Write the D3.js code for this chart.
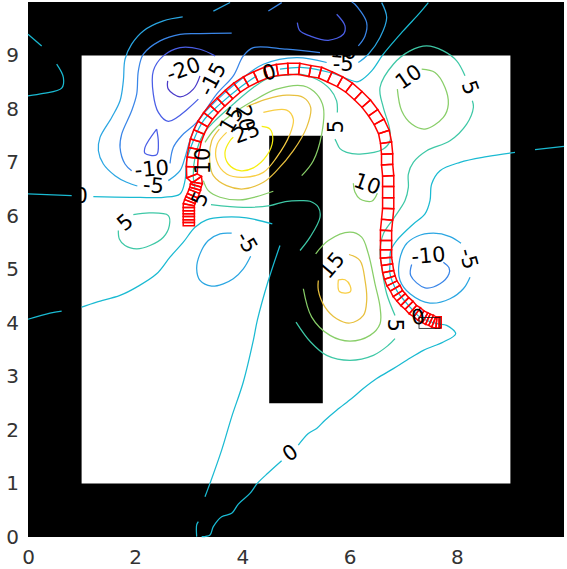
<!DOCTYPE html>
<html><head><meta charset="utf-8">
<script src="https://cdn.jsdelivr.net/npm/d3@7"></script>
<style>html,body{margin:0;padding:0;background:#fff;overflow:hidden}svg{display:block}</style>
</head><body><div id="chart"></div>
<script>
const xTicks=[0,2,4,6,8];
const yTicks=[0,1,2,3,4,5,6,7,8,9];
const outerWall=[0,10,0,10];
const openArea=[1,9,1,9];
const innerWall=[4.5,5.5,2.5,7.5];
const endBlock=[7.295,7.69,3.90,4.105];

const levelColors=[[-20,"#4A3BC9"],[-15,"#4A5EE6"],[-10,"#3A86E8"],[-5,"#2AA6E2"],[0,"#1ABAD2"],[5,"#3EC8A6"],[10,"#88CE68"],[15,"#E8C03E"],[20,"#F8CE44"],[25,"#F6EE10"]];

const contoursM20=[
[[3.209,8.62],[3.085,8.371],[2.836,8.228],[2.618,8.371],[2.606,8.526]]];
const contoursM15=[
[[3.489,8.993],[3.209,9.117],[2.836,9.148],[2.525,8.993],[2.338,8.713],[2.338,8.278],[2.432,7.936],[2.618,7.768],[3.178,8.184]],
[[2.4,7.625],[2.183,7.283],[2.183,7.171],[2.4,7.146],[2.432,7.376],[2.4,7.625]],
[[5.759,9.77],[5.914,9.553],[5.883,9.397],[5.603,9.285],[5.261,9.366],[5.075,9.459],[5.025,9.615]]];
const contoursM10=[
[[1.934,6.847],[1.81,6.972],[1.717,7.283],[1.748,7.531],[1.934,7.967],[2.028,8.278],[2.059,8.713],[2.152,9.024],[2.463,9.273],[2.836,9.397],[3.209,9.41],[3.8,9.416]],
[[2.65,6.984],[2.712,7.283],[2.867,7.5],[3.147,7.749],[3.52,8.278],[3.83,8.62],[4.018,8.993],[4.204,9.148],[4.826,9.117],[5.448,9.055]],
[[6.163,9.179],[6.287,9.366],[6.318,9.615],[6.1,9.957],[6.04,10]],
[[4.484,9.832],[4.733,9.988]],
[[7.158,5.094],[7.14,4.888],[7.407,4.658],[7.687,4.733],[7.855,4.92],[7.855,5.031],[7.749,5.137]]];
const contoursM5=[
[[2.886,9.72],[2.525,9.646],[2.152,9.459],[1.934,9.211],[1.81,8.93],[1.779,8.526],[1.717,8.153],[1.561,7.842],[1.344,7.469],[1.313,7.22],[1.406,6.972],[1.624,6.754],[1.841,6.63],[2.04,6.561]],
[[3.458,9.83],[3.77,9.99]],
[[2.618,6.661],[2.836,6.847],[2.93,7.096],[3.02,7.41],[3.147,7.72],[3.271,7.905],[3.644,8.278],[4.018,8.589],[4.391,8.837],[5.012,8.962],[5.572,8.869]],
[[6.163,8.868],[6.35,9.024],[6.567,9.335],[6.692,9.708],[6.598,9.988]],
[[3.8,5.678],[3.582,5.666],[3.364,5.541],[3.209,5.292],[3.147,5.013],[3.209,4.795],[3.426,4.689],[3.644,4.733],[3.83,4.826],[4.017,5.013],[4.154,5.249]],
[[8.079,5.492],[7.873,5.616],[7.563,5.678],[7.252,5.616],[7.034,5.448],[6.922,5.106],[6.941,4.795],[7.127,4.546],[7.5,4.372],[7.873,4.453],[8.122,4.64],[8.247,4.857]]];
const contours0=[
[[4.266,8.62],[3.955,8.402],[3.582,8.091],[3.271,7.78],[3.085,7.407],[2.96,7.034],[2.929,6.661],[2.836,6.412],[2.525,6.35],[1.903,6.35],[1.219,6.362]],
[[0.815,6.381],[0,6.412]],
[[4.701,8.744],[5.137,8.775],[5.634,8.682],[6.132,8.508],[6.194,8.526],[6.412,8.713],[6.629,9.024],[7,9.459],[7.313,9.801],[7.469,9.988]],
[[0,9.397],[0.255,9.179]],
[[0.535,8.838],[0.66,8.589],[0.628,8.39],[0.286,8.29],[0,8.247]],
[[10,7.3],[9.459,7.239]],
[[9.086,7.189],[8.557,7.109],[8.06,7.003],[7.687,6.847],[7.531,6.599],[7.5,6.288],[7.407,6.039],[7.19,5.852],[6.878,5.541],[6.767,5.355],[6.754,5.106],[6.754,4.92],[6.878,4.609],[7.127,4.298],[7.314,4.111],[7.625,3.987],[7.811,3.956],[7.979,3.8],[7.749,3.645],[7.376,3.489],[7.065,3.303],[6.816,3.147],[6.505,2.961],[6.256,2.774],[6.038,2.588],[5.758,2.37],[5.541,2.183],[5.385,2.028],[5.23,1.934],[5.043,1.717]],
[[4.732,1.425],[4.484,1.201],[4.278,1.002],[4.141,0.815],[3.924,0.616],[3.8,0.442],[3.613,0.38],[3.457,0.193],[3.395,0.038],[3.24,0.007]],
[[3.147,0.007],[3.147,0.225],[3.178,0.287]],
[[3.302,0.753],[3.395,1.002],[3.613,1.624],[3.8,2.246],[4.017,2.898],[4.204,3.676],[4.278,4.049],[4.484,4.795],[4.701,5.448]],
[[4.558,5.852],[4.079,5.964],[3.644,5.977],[3.333,5.927],[3.115,5.79],[2.898,5.51],[2.649,5.23],[2.4,4.919],[2.027,4.671],[1.716,4.515],[1.281,4.391],[1.001,4.297]],
[[0.628,4.223],[0.41,4.185],[0,4.07]]];
const contours5=[
[[1.965,6.026],[2.276,6.057],[2.618,6.008],[2.637,5.821],[2.525,5.603],[2.276,5.448],[2.027,5.386],[1.81,5.448],[1.704,5.572],[1.685,5.728]],
[[3.414,6.213],[4.017,6.163],[4.515,6.194],[4.8,6.27],[5.075,6.288],[5.262,6.275],[5.417,6.163],[5.448,5.977],[5.262,5.604],[5.075,5.355]],
[[5,4.018],[5.273,3.645],[5.572,3.396],[6.007,3.303],[6.443,3.396],[6.722,3.583],[6.847,3.707]],
[[6.847,4.142],[6.692,4.546],[6.599,5.044],[6.568,5.355],[6.63,5.666],[6.816,5.946],[7.034,6.288],[7.096,6.536],[7.096,6.785],[7.189,7.003],[7.438,7.22],[7.873,7.407],[8.184,7.718],[8.309,8.029],[8.29,8.153]],
[[8.153,8.62],[7.998,8.9],[7.749,9.086],[7.438,9.179],[7.127,9.086],[6.816,8.837],[6.567,8.402],[6.629,8.029],[6.741,7.656],[6.754,7.407],[6.629,7.252],[6.194,7.158],[5.945,7.189],[5.82,7.26],[5.758,7.375],[5.727,7.437]],
[[5.771,7.935],[5.758,8.153],[5.634,8.371],[5.385,8.557],[5.074,8.65],[4.888,8.638],[4.515,8.589],[4.204,8.402],[3.831,8.091],[3.458,7.749],[3.271,7.531],[3.116,7.096],[3.085,6.723],[3.116,6.505]]];
const contours10=[
[[3.271,6.661],[3.364,6.474],[3.582,6.35],[3.955,6.3],[4.266,6.362],[4.577,6.462]],
[[5.106,6.754],[5.323,7.034],[5.479,7.531],[5.51,8.029],[5.386,8.278],[5.137,8.433],[4.639,8.371],[4.204,8.153],[3.769,7.874],[3.458,7.594],[3.302,7.376]],
[[7.345,8.744],[7.593,8.682],[7.78,8.402],[7.842,8.091],[7.749,7.842],[7.407,7.625],[7.158,7.718],[6.971,7.967],[6.891,8.371]],
[[6.07,6.611],[6.101,6.443],[6.194,6.319],[6.412,6.275],[6.518,6.425]],
[[5.367,5.293],[5.604,5.541],[6.008,5.697],[6.225,5.604],[6.35,5.293],[6.474,4.733],[6.568,4.298],[6.568,3.987],[6.381,3.769],[6.008,3.663],[5.635,3.769],[5.293,4.111],[5.137,4.64]]];
const contours15=[
[[4.08,8.041],[4.453,8.184],[4.826,8.259],[5.137,8.216],[5.274,8.029],[5.199,7.656],[4.95,7.22],[4.639,6.847],[4.391,6.63],[4.017,6.505],[3.706,6.567],[3.458,6.754],[3.396,6.972],[3.427,7.407],[3.57,7.625]],
[[5.989,5.28],[6.194,5.168],[6.288,4.795],[6.319,4.422],[6.257,4.142],[6.008,4],[5.759,4.08],[5.541,4.298],[5.417,4.609],[5.417,4.795]]];
const contours20=[
[[4.391,7.936],[4.826,7.979],[4.95,7.811],[4.888,7.531],[4.639,7.096],[4.391,6.816],[4.017,6.723],[3.706,6.785],[3.52,7.034],[3.532,7.345],[3.706,7.563]],
[[5.79,4.808],[5.915,4.808],[6.008,4.702],[6.008,4.578],[5.809,4.59],[5.79,4.808]]];
const contours25=[
[[4.36,7.675],[4.515,7.625],[4.565,7.407],[4.453,7.127],[4.204,6.9],[3.955,6.847],[3.738,6.972],[3.675,7.189],[3.769,7.407],[3.83,7.47]]];

const contourGroups=[contoursM20,contoursM15,contoursM10,contoursM5,contours0,contours5,contours10,contours15,contours20,contours25];

const tubeX=[3.00,3.00,3.00,3.00,3.00,3.00,3.00,3.00,3.02,3.04,3.07,3.10,3.12,3.13,3.15,3.15,3.06,3.06,3.07,3.10,3.13,3.19,3.26,3.36,3.47,3.60,3.75,3.90,4.07,4.25,4.44,4.65,4.85,5.06,5.26,5.45,5.63,5.82,5.99,6.16,6.31,6.44,6.55,6.64,6.68,6.70,6.70,6.72,6.72,6.72,6.72,6.70,6.68,6.68,6.68,6.68,6.70,6.72,6.75,6.79,6.85,6.90,6.96,7.03,7.11,7.18,7.26,7.33,7.41,7.46,7.52,7.57,7.62,7.67,7.71];
const tubeY=[5.82,5.88,5.93,5.99,6.04,6.10,6.16,6.21,6.27,6.32,6.38,6.46,6.51,6.57,6.62,6.68,6.75,6.92,7.09,7.26,7.41,7.57,7.72,7.87,8.00,8.13,8.27,8.40,8.51,8.60,8.68,8.73,8.75,8.75,8.71,8.68,8.60,8.51,8.40,8.25,8.10,7.93,7.76,7.57,7.37,7.16,6.96,6.75,6.55,6.34,6.14,5.93,5.73,5.54,5.37,5.22,5.09,4.96,4.85,4.74,4.65,4.55,4.48,4.40,4.33,4.25,4.20,4.14,4.10,4.07,4.05,4.02,4.01,4.01,4.01];

const labelText=["-20","-15","0","-5","-10","15","20","25","10","5","5","10","10","5","-10","-5","0","5","-5","15","-10","-5","0","5","0"];
const labelX=[2.90,3.445,4.50,5.88,5.82,3.80,4.05,4.08,3.27,3.21,5.75,6.33,7.10,8.25,2.31,2.34,0.99,1.81,4.08,5.67,7.47,8.22,7.28,6.85,4.89];
const labelY=[8.74,8.56,8.68,8.84,9.09,7.80,7.83,7.56,7.03,6.32,7.67,6.60,8.60,8.40,6.88,6.57,6.37,5.88,5.51,5.08,5.26,5.20,4.11,3.96,1.57];
const labelAngle=[-20,-62,-15,0,5,-60,80,-20,-90,-65,-90,20,-35,70,-5,5,0,-40,60,-50,-5,75,-10,90,-35];

const W=567,H=569;
const x=d3.scaleLinear().domain([0,10]).range([28,564]);
const y=d3.scaleLinear().domain([0,10]).range([537,2]);
const svg=d3.select("#chart").append("svg").attr("width",W).attr("height",H);

const addRect=(r,fill)=>svg.append("rect").attr("x",x(r[0])).attr("y",y(r[3])).attr("width",x(r[1])-x(r[0])).attr("height",y(r[2])-y(r[3])).attr("fill",fill);
addRect(outerWall,"#000");
addRect(openArea,"#fff");
addRect(innerWall,"#000");

const line=d3.line().x(d=>x(d[0])).y(d=>y(d[1])).curve(d3.curveCatmullRom.alpha(0.5));
const cg=svg.append("g").attr("fill","none").attr("stroke-width",1.25);
contourGroups.forEach((segs,i)=>{
  cg.append("g").attr("stroke",levelColors[i][1]).selectAll("path").data(segs).join("path").attr("d",line);
});

// tube cross-sections between successive stations
const halfW=5.6;
const stations=tubeX.map((v,i)=>{
  const a=Math.max(i-1,0),b=Math.min(i+1,tubeX.length-1);
  const dx=x(tubeX[b])-x(tubeX[a]),dy=y(tubeY[b])-y(tubeY[a]),n=Math.hypot(dx,dy)||1;
  return {cx:x(v),cy:y(tubeY[i]),nx:-dy/n*halfW,ny:dx/n*halfW};
});
const quads=d3.pairs(stations);
svg.append("g").selectAll("path").data(quads).join("path")
  .attr("fill","none").attr("stroke","#f00").attr("stroke-width",1.5)
  .attr("d",([p,q])=>d3.line()([[p.cx+p.nx,p.cy+p.ny],[q.cx+q.nx,q.cy+q.ny],[q.cx-q.nx,q.cy-q.ny],[p.cx-p.nx,p.cy-p.ny]])+"Z");
svg.append("rect").attr("x",x(endBlock[0])).attr("y",y(endBlock[3])).attr("width",x(endBlock[1])-x(endBlock[0])).attr("height",y(endBlock[2])-y(endBlock[3]))
  .attr("fill","none").attr("stroke","#111").attr("stroke-width",0.8);

// contour labels
svg.append("g").attr("font-family","'DejaVu Sans',sans-serif").attr("font-size",21).attr("fill","#000")
  .selectAll("text").data(labelText).join("text")
  .attr("text-anchor","middle").attr("dominant-baseline","central")
  .attr("transform",(d,i)=>`translate(${x(labelX[i])},${y(labelY[i])}) rotate(${labelAngle[i]})`)
  .text(d=>d);

// axes
const ax=d3.axisBottom(x).tickValues(xTicks).tickSize(0).tickPadding(13).tickFormat(d3.format("d"));
const ay=d3.axisLeft(y).tickValues(yTicks).tickSize(0).tickPadding(9).tickFormat(d3.format("d"));
for(const [g,t] of [[ax,`translate(0,${y(0)})`],[ay,`translate(${x(0)},0)`]]){
  const s=svg.append("g").attr("transform",t).call(g);
  s.select(".domain").remove();
  s.selectAll("text").attr("font-family","'DejaVu Sans',sans-serif").attr("font-size",20).attr("fill","#333");
}
</script></body></html>
